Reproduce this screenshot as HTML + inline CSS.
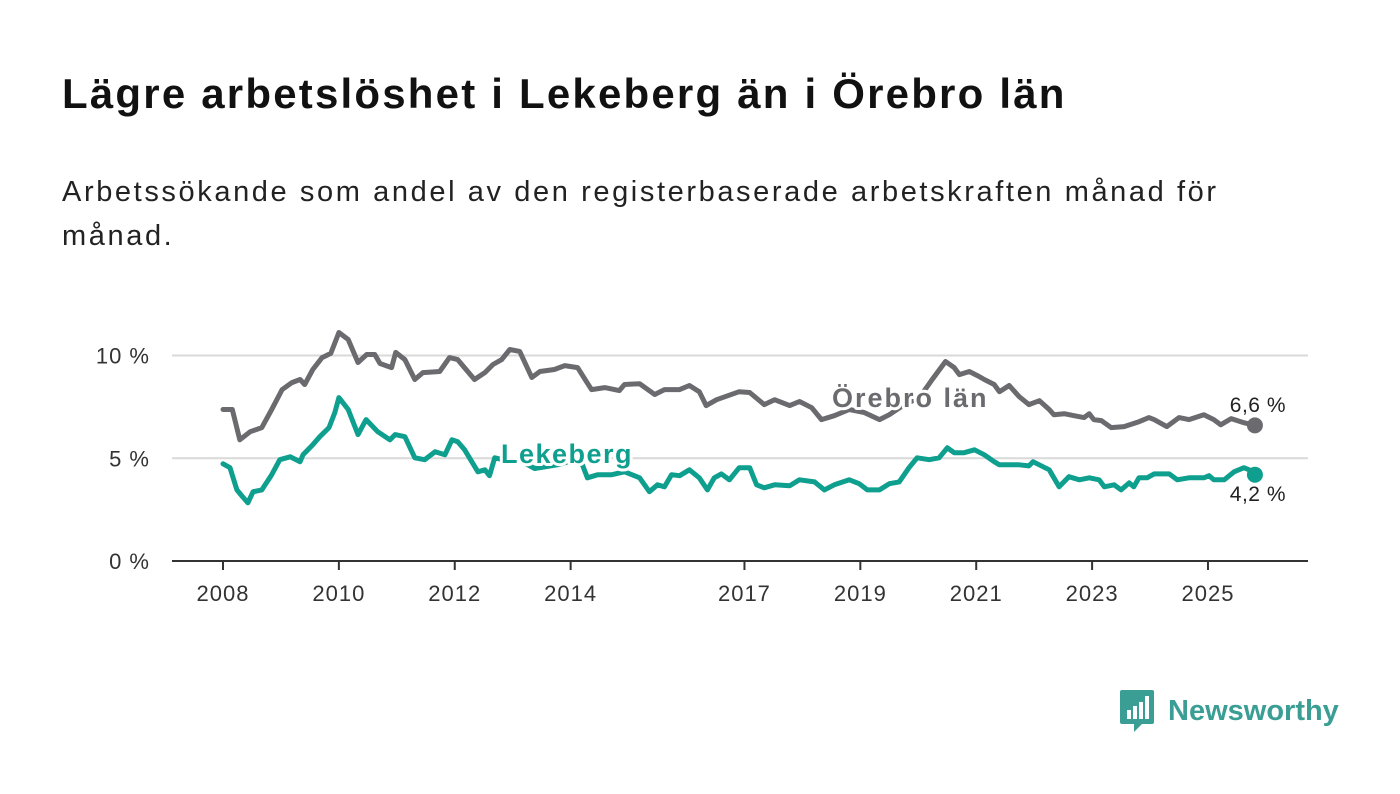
<!DOCTYPE html>
<html><head><meta charset="utf-8">
<style>
html,body{margin:0;padding:0;background:#fff;}
body{width:1400px;height:794px;overflow:hidden;position:relative;font-family:"Liberation Sans",sans-serif;color:#111;}
#title{position:absolute;left:62px;top:70px;font-size:42px;font-weight:bold;margin:0;letter-spacing:2.2px;}
#subtitle{position:absolute;left:62px;top:170px;font-size:29px;line-height:44px;width:1240px;margin:0;color:#222;letter-spacing:2.6px;}
svg{position:absolute;left:0;top:0;}
#logo{position:absolute;left:1120px;top:690px;display:flex;align-items:center;}
#logo span{font-size:29px;font-weight:bold;color:#3a9e94;margin-left:14px;}
</style></head>
<body>
<h1 id="title">Lägre arbetslöshet i Lekeberg än i Örebro län</h1>
<p id="subtitle">Arbetssökande som andel av den registerbaserade arbetskraften månad för månad.</p>
<svg id="chart" width="1400" height="794"></svg>
<div id="logo">
<svg width="34" height="42" viewBox="0 0 34 42" style="position:static">
<path d="M2 0H32a2 2 0 0 1 2 2V32a2 2 0 0 1-2 2H22L14 42V34H2a2 2 0 0 1-2-2V2a2 2 0 0 1 2-2z" fill="#3a9e94"/>
<rect x="7" y="20" width="4" height="9" fill="#fff"/><rect x="13" y="16" width="4" height="13" fill="#fff"/><rect x="19" y="12" width="4" height="17" fill="#fff"/><rect x="25" y="6" width="4" height="23" fill="#fff"/>
</svg>
<span>Newsworthy</span>
</div>
<script>
const yTicks = [0, 5, 10];
const yTickLabels = ["0 %", "5 %", "10 %"];
const xTicks = [2008, 2010, 2012, 2014, 2017, 2019, 2021, 2023, 2025];
const orebroDates = [2008.00,2008.16,2008.29,2008.47,2008.67,2008.84,2009.02,2009.19,2009.33,2009.41,2009.55,2009.71,2009.86,2010.00,2010.16,2010.33,2010.48,2010.62,2010.71,2010.91,2010.98,2011.14,2011.31,2011.45,2011.74,2011.91,2012.05,2012.34,2012.52,2012.66,2012.81,2012.95,2013.12,2013.33,2013.47,2013.72,2013.90,2014.12,2014.36,2014.59,2014.84,2014.93,2015.19,2015.45,2015.62,2015.88,2016.05,2016.22,2016.34,2016.52,2016.91,2017.09,2017.34,2017.52,2017.78,2017.95,2018.16,2018.33,2018.55,2018.81,2019.07,2019.33,2019.50,2019.76,2020.02,2020.24,2020.47,2020.62,2020.71,2020.88,2021.02,2021.14,2021.31,2021.40,2021.57,2021.74,2021.91,2022.09,2022.26,2022.34,2022.52,2022.69,2022.86,2022.95,2023.03,2023.16,2023.33,2023.55,2023.81,2023.98,2024.07,2024.29,2024.50,2024.67,2024.93,2025.10,2025.22,2025.40,2025.62,2025.81];
const orebroValues = [7.37,7.37,5.90,6.29,6.49,7.37,8.34,8.68,8.83,8.59,9.32,9.90,10.10,11.12,10.78,9.66,10.05,10.05,9.61,9.41,10.15,9.80,8.83,9.17,9.22,9.90,9.80,8.83,9.17,9.56,9.80,10.29,10.20,8.93,9.22,9.32,9.51,9.41,8.34,8.44,8.29,8.59,8.63,8.10,8.34,8.34,8.54,8.24,7.56,7.85,8.24,8.20,7.61,7.85,7.56,7.76,7.46,6.88,7.07,7.37,7.22,6.88,7.12,7.61,7.95,8.83,9.71,9.41,9.07,9.22,9.02,8.83,8.59,8.24,8.54,8.00,7.61,7.80,7.37,7.12,7.17,7.07,6.98,7.17,6.88,6.83,6.49,6.54,6.78,6.98,6.88,6.54,6.98,6.88,7.12,6.88,6.63,6.93,6.73,6.6];
const lekebergDates = [2008.00,2008.12,2008.24,2008.34,2008.43,2008.52,2008.67,2008.84,2008.98,2009.16,2009.33,2009.38,2009.55,2009.67,2009.83,2009.93,2010.00,2010.16,2010.33,2010.47,2010.67,2010.88,2010.97,2011.14,2011.31,2011.48,2011.66,2011.83,2011.95,2012.05,2012.17,2012.40,2012.52,2012.60,2012.69,2012.83,2013.12,2013.38,2013.81,2014.16,2014.29,2014.47,2014.71,2014.93,2015.19,2015.36,2015.50,2015.62,2015.74,2015.88,2016.05,2016.22,2016.36,2016.48,2016.60,2016.74,2016.91,2017.09,2017.21,2017.34,2017.52,2017.78,2017.95,2018.21,2018.38,2018.55,2018.81,2018.98,2019.12,2019.33,2019.50,2019.67,2019.84,2019.98,2020.19,2020.36,2020.50,2020.62,2020.79,2020.97,2021.14,2021.31,2021.40,2021.74,2021.91,2021.98,2022.26,2022.34,2022.43,2022.60,2022.78,2022.95,2023.12,2023.21,2023.38,2023.50,2023.64,2023.72,2023.81,2023.95,2024.07,2024.33,2024.47,2024.67,2024.93,2025.02,2025.10,2025.28,2025.45,2025.62,2025.71,2025.81];
const lekebergValues = [4.73,4.54,3.46,3.12,2.83,3.37,3.46,4.20,4.93,5.07,4.83,5.17,5.66,6.05,6.49,7.22,7.95,7.37,6.15,6.88,6.29,5.90,6.15,6.05,5.02,4.93,5.32,5.17,5.90,5.80,5.41,4.34,4.44,4.15,5.02,4.93,4.9,4.5,4.7,5.0,4.05,4.20,4.20,4.34,4.05,3.37,3.71,3.61,4.20,4.15,4.44,4.05,3.46,4.05,4.24,3.95,4.54,4.54,3.71,3.56,3.71,3.66,3.95,3.85,3.46,3.71,3.95,3.76,3.46,3.46,3.76,3.85,4.54,5.02,4.93,5.02,5.51,5.27,5.27,5.41,5.17,4.83,4.68,4.68,4.63,4.83,4.44,4.05,3.61,4.10,3.95,4.05,3.95,3.61,3.71,3.46,3.80,3.61,4.05,4.05,4.24,4.24,3.95,4.05,4.05,4.15,3.95,3.95,4.34,4.54,4.44,4.2];

const NS = "http://www.w3.org/2000/svg";
const svg = document.getElementById("chart");
const x = yr => 223 + (yr - 2008) * 57.94;
const y = v => 561 - v * 20.55;
function mk(tag, attrs, parent){const e=document.createElementNS(NS,tag);for(const k in attrs)e.setAttribute(k,attrs[k]);(parent||svg).appendChild(e);return e;}

yTicks.forEach((t,i)=>{
  if(t>0){const g=mk("line",{x1:172,x2:1308,y1:y(t),y2:y(t),stroke:"#d9d9d9","stroke-width":2});
  
  }
  const l=mk("text",{x:150,y:y(t)+8,"text-anchor":"end","font-size":22,"letter-spacing":1,fill:"#333","font-family":"Liberation Sans, sans-serif"});
  l.textContent=yTickLabels[i];
  
  
});
const ax=mk("line",{x1:172,x2:1308,y1:561,y2:561,stroke:"#333","stroke-width":2});


xTicks.forEach(t=>{
  const tk=mk("line",{x1:x(t),x2:x(t),y1:561,y2:570,stroke:"#333","stroke-width":2});
  
  
  const l=mk("text",{x:x(t),y:601,"text-anchor":"middle","font-size":22,"letter-spacing":1,fill:"#333","font-family":"Liberation Sans, sans-serif"});
  l.textContent=String(t);
  
  
});
function line(dates,vals,color,name){
  const d=dates.map((t,i)=>(i?"L":"M")+x(t).toFixed(1)+","+y(vals[i]).toFixed(1)).join("");
  const p=mk("path",{d:d,fill:"none",stroke:color,"stroke-width":5,"stroke-linejoin":"round","stroke-linecap":"round"});
  
  
  const n=dates.length-1;
  const c=mk("circle",{cx:x(dates[n]),cy:y(vals[n]),r:8,fill:color});
  
  
}
line(orebroDates,orebroValues,"#6b6a6f","orebro-lan-line");
line(lekebergDates,lekebergValues,"#0e9f8e","lekeberg-line");
function label(tx,px,py,color,name,size,bold,anchor,ls){
  const t=mk("text",{x:px,y:py,"font-size":size,"font-weight":bold?"bold":"normal","letter-spacing":ls||0,fill:color,stroke:"#fff","stroke-width":6,"paint-order":"stroke","stroke-linejoin":"round","text-anchor":anchor||"start","font-family":"Liberation Sans, sans-serif"});
  t.textContent=tx;
  
  
}
label("Örebro län",832,407,"#6b6a6f","orebro-series-label",27,true,"start",2);
label("Lekeberg",501,463,"#0e9f8e","lekeberg-series-label",27,true,"start",1.5);
const nO=orebroValues.length-1, nL=lekebergValues.length-1;
label(orebroValues[nO].toFixed(1).replace(".",",")+" %",1286,412,"#222","orebro-last-value",21,false,"end",0.5);
label(lekebergValues[nL].toFixed(1).replace(".",",")+" %",1286,501,"#222","lekeberg-last-value",21,false,"end",0.5);
</script>
</body></html>
